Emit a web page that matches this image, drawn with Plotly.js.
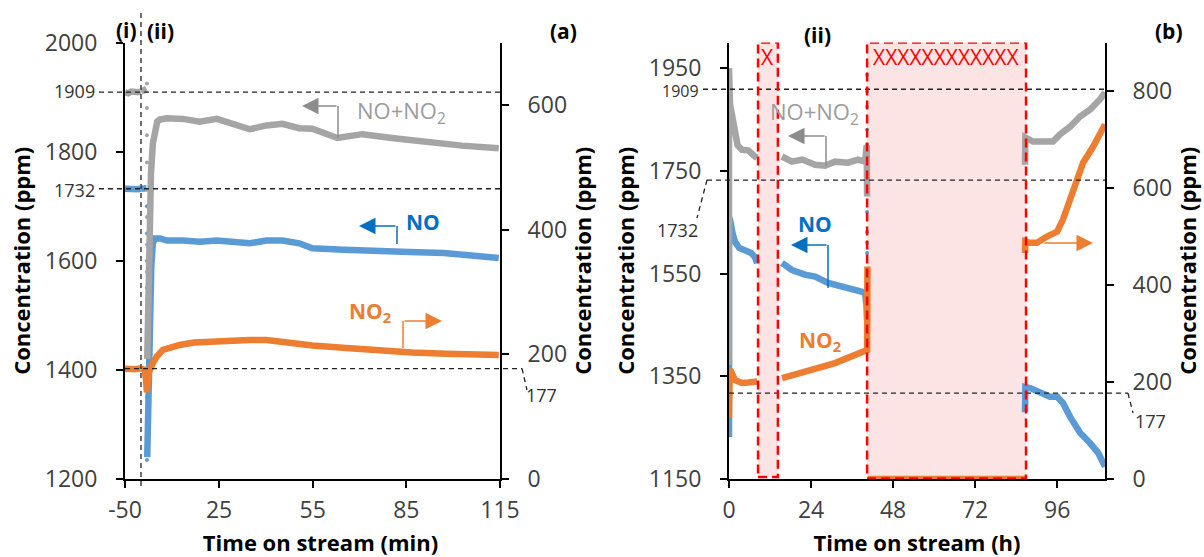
<!DOCTYPE html>
<html>
<head>
<meta charset="utf-8">
<script src="https://cdn.plot.ly/plotly-3.0.1.min.js"></script>
<style>html,body{margin:0;padding:0;background:#fff;}#chart{width:1204px;height:557px;}</style>
</head>
<body>
<div id="chart"></div>
<script>
// ---------------- DATA ----------------
// Panel (a): phase (i), time in min (left axis: ppm NO+NO2, NO ; right axis: ppm NO2)
const tA_i    = [-50, -40, -30, -20, -10, -1];
const noxA_i  = [1909, 1907, 1910, 1908, 1909, 1910];
const noA_i   = [1732, 1731, 1733, 1732, 1731, 1732];
const no2A_i  = [177, 176, 177, 176, 177, 177];

// Panel (a): phase (ii)
const tNoxA0  = [0, 0.9, 1.8];
const noxA0   = [1910, 1912, 1915];
const tNoxAdrop = [1.9, 1.9, 1.9, 1.9, 1.9, 1.9, 1.9, 1.9, 1.9, 1.9, 1.9];
const noxAdrop  = [1925, 1880, 1830, 1780, 1730, 1680, 1630, 1580, 1530, 1480, 1440];
const tNoxA   = [2.0, 2.4, 2.8, 3.2, 3.8, 4.5, 5.2, 6.1, 8.3, 13.4, 18.8, 24.3, 29.4, 34.8, 40.2, 45.3, 50.7, 54.9, 62.9, 70.9, 81.7, 92.2, 102.8, 114.6];
const noxA    = [1420, 1560, 1680, 1760, 1815, 1845, 1855, 1859, 1861, 1860, 1855, 1860, 1852, 1841, 1848, 1851, 1843, 1842, 1825, 1832, 1824, 1817, 1811, 1806];

const tNoA0   = [0, 0.9, 1.8];
const noA0    = [1732, 1731, 1733];
const tNoAdrop = [1.9, 1.9, 1.9, 1.9, 1.9, 1.9, 1.9, 1.9, 1.9, 1.9, 1.9];
const noAdrop  = [1700, 1650, 1600, 1550, 1500, 1450, 1400, 1350, 1300, 1260, 1235];
const tNoA    = [2.0, 2.4, 2.8, 3.3, 3.8, 4.5, 6.1, 8.3, 13.4, 18.8, 24.3, 29.4, 34.8, 40.2, 45.3, 50.7, 54.9, 65.0, 76.0, 86.0, 97.0, 107.0, 114.6];
const noA     = [1240, 1380, 1500, 1590, 1632, 1641, 1641, 1637, 1637, 1635, 1637, 1634, 1632, 1637, 1637, 1632, 1623, 1620, 1619, 1616, 1614, 1610, 1605];

const tNo2A   = [0, 1.2, 1.6, 1.9, 2.2, 2.6, 3.8, 5.0, 7.0, 9.5, 12.4, 17.0, 24.0, 34.8, 40.2, 44.4, 50.7, 54.9, 65.8, 76.3, 86.8, 97.7, 114.6];
const no2A    = [177, 175, 160, 139, 160, 172, 186, 196, 207, 212, 215, 219, 221, 223, 223, 220, 218, 214, 210, 206, 203, 201, 199];

// Panel (b): time in h (left axis: ppm NO+NO2, NO ; right axis: ppm NO2)
const tNoxB1  = [0, 0, 0.3, 0.6, 1.0, 1.75, 2.5, 3.8, 5.6, 7.6, 8.2];
const noxB1   = [1372, 1950, 1880, 1869, 1850, 1817, 1800, 1791, 1790, 1778, 1776];
const tNoxB2  = [15.5, 18.4, 21.4, 23.1, 25.2, 28.1, 31.0, 34.8, 37.7, 39.8, 40.3, 40.4];
const noxB2   = [1778, 1768, 1772, 1768, 1762, 1760, 1768, 1766, 1772, 1768, 1800, 1700];
const tNoxB3  = [86.6, 86.7, 88.9, 91.9, 94.8, 96.8, 99.8, 102.7, 105.6, 108.5, 110];
const noxB3   = [1762, 1815, 1807, 1807, 1807, 1821, 1836, 1856, 1869, 1889, 1903];

const tNoB1   = [0, 0, 0.3, 1.0, 1.75, 3.0, 4.7, 6.5, 7.6, 8.2];
const noB1    = [1232, 1660, 1655, 1630, 1612, 1600, 1595, 1590, 1582, 1570];
const tNoB2   = [15.5, 18.4, 22.2, 25.2, 29.0, 33.1, 36.9, 39.8, 40.2, 40.4];
const noB2    = [1571, 1557, 1548, 1544, 1532, 1524, 1518, 1513, 1490, 1460];
const tNoBdots = [40.4, 40.4, 40.4, 40.4, 40.4, 40.4, 40.4, 40.4, 40.4];
const noBdots  = [1937, 1904, 1875, 1830, 1801, 1670, 1631, 1610, 1590];
const tNoB3   = [86.6, 86.7, 88.1, 91.0, 93.9, 96.0, 97.7, 99.8, 102.7, 105.6, 108.0, 110];
const noB3    = [1280, 1329, 1327, 1320, 1310, 1310, 1298, 1271, 1240, 1220, 1201, 1174];

const tNo2B1  = [0, 0.2, 0.6, 1.75, 3.8, 5.6, 7.6, 8.2];
const no2B1   = [128, 225, 222, 204, 198, 199, 200, 201];
const tNo2B2  = [15.5, 19.3, 23.1, 27.2, 31.0, 34.8, 38.9, 40.4, 40.5];
const no2B2   = [208, 215, 221, 231, 239, 250, 260, 266, 438];
const tNo2B0  = [40.6, 86.6];
const no2B0   = [0, 0];
const tNo2B3  = [86.6, 86.7, 88.0, 90.1, 93.0, 96.0, 97.7, 99.8, 101.8, 103.6, 106.5, 110];
const no2B3   = [466, 490, 487, 487, 500, 510, 535, 576, 617, 652, 685, 731];

// Reference levels and ticks
const refNOx = 1909, refNO = 1732, refNO2 = 177;
const boxB1 = [8.5, 14.3], boxB2 = [40.4, 86.9];
const ticksXA_i = [-50], ticksXA = [25, 55, 85, 115], ticksXB = [0, 24, 48, 72, 96];
const ticksYA = [1200, 1400, 1600, 1800, 2000], ticksY2A = [0, 200, 400, 600];
const ticksYB = [1150, 1350, 1550, 1750, 1950], ticksY2B = [0, 200, 400, 600, 800];

// ---------------- STYLE ----------------
const W = 1204, H = 557;
const P = x => x / W, Q = y => 1 - y / H;
const GRAY = '#A5A5A5', BLUE = '#5B9BD5', ORANGE = '#ED7D31';
const FONT = 'Open Sans, Liberation Sans, sans-serif';
const LW = 6.5;

function ln(x, y, xa, ya, color, w) {
  return {x, y, xaxis: xa, yaxis: ya, type: 'scatter', mode: 'lines',
          line: {color, width: w || LW}, hoverinfo: 'skip', showlegend: false};
}
function dots(x, y, xa, ya, color) {
  return {x, y, xaxis: xa, yaxis: ya, type: 'scatter', mode: 'markers',
          marker: {color, size: 4}, hoverinfo: 'skip', showlegend: false};
}

const traces = [
  ln(tA_i, noA_i, 'x', 'y', BLUE),
  ln(tA_i, noxA_i, 'x', 'y', GRAY),
  ln(tA_i, no2A_i, 'x', 'y2', ORANGE),
  ln(tNoA0, noA0, 'x2', 'y', BLUE),
  dots(tNoAdrop, noAdrop, 'x2', 'y', BLUE),
  ln(tNoA, noA, 'x2', 'y', BLUE),
  ln(tNoxA0, noxA0, 'x2', 'y', GRAY),
  dots(tNoxAdrop, noxAdrop, 'x2', 'y', GRAY),
  ln(tNoxA, noxA, 'x2', 'y', GRAY),
  ln(tNo2A, no2A, 'x2', 'y2', ORANGE),
  ln(tNoB1, noB1, 'x3', 'y3', BLUE),
  ln(tNoB2, noB2, 'x3', 'y3', BLUE),
  dots(tNoBdots, noBdots, 'x3', 'y3', BLUE),
  ln(tNoB3, noB3, 'x3', 'y3', BLUE),
  ln(tNoxB1, noxB1, 'x3', 'y3', GRAY),
  ln(tNoxB2, noxB2, 'x3', 'y3', GRAY),
  ln(tNoxB3, noxB3, 'x3', 'y3', GRAY),
  ln(tNo2B1, no2B1, 'x3', 'y4', ORANGE),
  ln(tNo2B2, no2B2, 'x3', 'y4', ORANGE),
  ln(tNo2B0, no2B0, 'x3', 'y4', ORANGE),
  ln(tNo2B3, no2B3, 'x3', 'y4', ORANGE)
];

const yDom = [Q(479), Q(42.5)];
const base = {showline: true, linecolor: '#000', linewidth: 2, ticks: 'outside', ticklen: 7,
  tickwidth: 2, tickcolor: '#000', showgrid: false, zeroline: false, fixedrange: true,
  tickfont: {family: FONT, size: 23, color: '#404040'}, tickmode: 'array'};
const titleFont = {family: FONT, size: 22, color: '#000'};
const XSO = 2;

const layout = {
  width: W, height: H, margin: {l: 0, r: 0, t: 0, b: 0},
  paper_bgcolor: '#fff', plot_bgcolor: 'rgba(0,0,0,0)', showlegend: false,
  font: {family: FONT},
  xaxis:  Object.assign({}, base, {domain: [P(125), P(141)], range: [-50, 0], anchor: 'y',
           tickvals: ticksXA_i, ticktext: ticksXA_i.map(String), ticklabelstandoff: XSO}),
  xaxis2: Object.assign({}, base, {domain: [P(141), P(500)], range: [0, 115], anchor: 'y',
           tickvals: ticksXA, ticktext: ticksXA.map(String), ticklabelstandoff: XSO,
           title: {text: '<b>Time on stream (min)</b>', font: titleFont, standoff: 12}}),
  yaxis:  Object.assign({}, base, {domain: yDom, range: [1200, 2000], anchor: 'x',
           tickvals: ticksYA, ticktext: ticksYA.map(String), ticklabelstandoff: 14,
           title: {text: '<b>Concentration (ppm)</b>', font: titleFont, standoff: 8}}),
  yaxis2: Object.assign({}, base, {overlaying: 'y', side: 'right', anchor: 'x2', range: [0, 700],
           tickvals: ticksY2A, ticktext: ticksY2A.map(String), ticklabelstandoff: 14,
           title: {text: '<b>Concentration (ppm)</b>', font: titleFont, standoff: 8}}),
  xaxis3: Object.assign({}, base, {domain: [P(729), P(1105)], range: [0, 110], anchor: 'y3',
           tickvals: ticksXB, ticktext: ticksXB.map(String), ticklabelstandoff: XSO,
           title: {text: '<b>Time on stream (h)</b>', font: titleFont, standoff: 12}}),
  yaxis3: Object.assign({}, base, {domain: yDom, range: [1150, 2000], anchor: 'x3',
           tickvals: ticksYB, ticktext: ticksYB.map(String), ticklabelstandoff: 14,
           title: {text: '<b>Concentration (ppm)</b>', font: titleFont, standoff: 8}}),
  yaxis4: Object.assign({}, base, {overlaying: 'y3', side: 'right', anchor: 'x3', range: [0, 900],
           tickvals: ticksY2B, ticktext: ticksY2B.map(String), ticklabelstandoff: 14,
           title: {text: '<b>Concentration (ppm)</b>', font: titleFont, standoff: 8}})
};

const dash = {color: '#222', width: 1.3, dash: '5px,4px'};
const red = {color: '#FF0000', width: 2.5, dash: '9px,5px'};
const pline = (x0, y0, x1, y1, line) => ({type: 'line', xref: 'paper', yref: 'paper',
  x0: P(x0), y0: Q(y0), x1: P(x1), y1: Q(y1), line});
layout.shapes = [
  {type: 'rect', xref: 'x3', yref: 'y3', x0: boxB1[0], x1: boxB1[1], y0: 1154, y1: 2000,
   fillcolor: 'rgba(250,170,170,0.32)', line: {width: 0}, layer: 'below'},
  {type: 'rect', xref: 'x3', yref: 'y3', x0: boxB2[0], x1: boxB2[1], y0: 1151, y1: 2000,
   fillcolor: 'rgba(250,170,170,0.32)', line: {width: 0}, layer: 'below'},
  {type: 'line', xref: 'paper', yref: 'y', x0: P(99), x1: P(500), y0: refNOx, y1: refNOx, line: dash},
  {type: 'line', xref: 'paper', yref: 'y', x0: P(99), x1: P(500), y0: refNO, y1: refNO, line: dash},
  {type: 'line', xref: 'paper', yref: 'y2', x0: P(125), x1: P(522), y0: refNO2, y1: refNO2, line: dash},
  pline(522, 368.5, 527, 390, dash),
  pline(141, 13, 141, 487, dash),
  {type: 'line', xref: 'paper', yref: 'y3', x0: P(703), x1: P(1105), y0: refNOx, y1: refNOx, line: dash},
  {type: 'line', xref: 'paper', yref: 'y3', x0: P(707), x1: P(1105), y0: refNO, y1: refNO, line: dash},
  pline(707, 180, 697, 218, dash),
  {type: 'line', xref: 'paper', yref: 'y4', x0: P(729), x1: P(1128), y0: refNO2, y1: refNO2, line: dash},
  pline(1128, 393.2, 1133, 413, dash),
  {type: 'rect', xref: 'x3', yref: 'y3', x0: boxB1[0], x1: boxB1[1], y0: 1154, y1: 2000,
   fillcolor: 'rgba(0,0,0,0)', line: red},
  {type: 'rect', xref: 'x3', yref: 'y3', x0: boxB2[0], x1: boxB2[1], y0: 1151, y1: 2000,
   fillcolor: 'rgba(0,0,0,0)', line: red},
  pline(338, 106, 338, 138, {color: '#8C8C8C', width: 1.5}),
  pline(397, 226, 397, 244, {color: '#0070C0', width: 1.5}),
  pline(403, 321, 403, 348, {color: ORANGE, width: 1.5}),
  pline(826, 136, 826, 166, {color: '#8C8C8C', width: 1.5}),
  pline(828, 245, 828, 288, {color: '#0070C0', width: 1.5})
];

const txt = (x, y, text, size, color, extra) => Object.assign({xref: 'paper', yref: 'paper',
  x: P(x), y: Q(y), text, showarrow: false, font: {family: FONT, size, color},
  xanchor: 'center', yanchor: 'middle'}, extra || {});
const arr = (x, y, ax, color) => ({xref: 'paper', yref: 'paper', x: P(x), y: Q(y), ax, ay: 0,
  text: '', showarrow: true, arrowhead: 2, arrowsize: 2.2, arrowwidth: 1.5, arrowcolor: color});
layout.annotations = [
  txt(126, 30, '<b>(i)</b>', 21, '#000'),
  txt(161, 31, '<b>(ii)</b>', 21, '#000'),
  txt(563, 31, '<b>(a)</b>', 21, '#000'),
  txt(1169, 31, '<b>(b)</b>', 21, '#000'),
  txt(817, 35, '<b>(ii)</b>', 21, '#000'),
  txt(97, 91, '1909', 18, '#333', {xanchor: 'right'}),
  txt(97, 190, '1732', 18, '#333', {xanchor: 'right'}),
  txt(541, 395, '177', 18, '#333'),
  txt(701, 91, '1909', 16, '#333', {xanchor: 'right'}),
  txt(677, 230, '1732', 18, '#333'),
  txt(1150, 421, '177', 18, '#333'),
  txt(767, 57, 'X', 21, '#FF0000'),
  txt(946, 57, 'XXXXXXXXXXXX', 21, '#FF0000'),
  txt(401, 112, 'NO+NO<sub>2</sub>', 22, '#9C9C9C'),
  txt(423, 222, '<b>NO</b>', 21, '#0070C0'),
  txt(370, 312, '<b>NO<sub>2</sub></b>', 21, ORANGE),
  txt(814, 113, 'NO+NO<sub>2</sub>', 22, '#9C9C9C'),
  txt(815, 224, '<b>NO</b>', 21, '#0070C0'),
  txt(820, 341, '<b>NO<sub>2</sub></b>', 21, ORANGE),
  arr(302, 106, 36, '#8C8C8C'),
  arr(359, 226, 38, '#0070C0'),
  arr(442, 321, -39, ORANGE),
  arr(788, 136, 38, '#8C8C8C'),
  arr(791, 245, 37, '#0070C0'),
  arr(1093, 243, -50, ORANGE)
];

Plotly.newPlot('chart', traces, layout, {staticPlot: true, displayModeBar: false});
</script>
</body>
</html>
